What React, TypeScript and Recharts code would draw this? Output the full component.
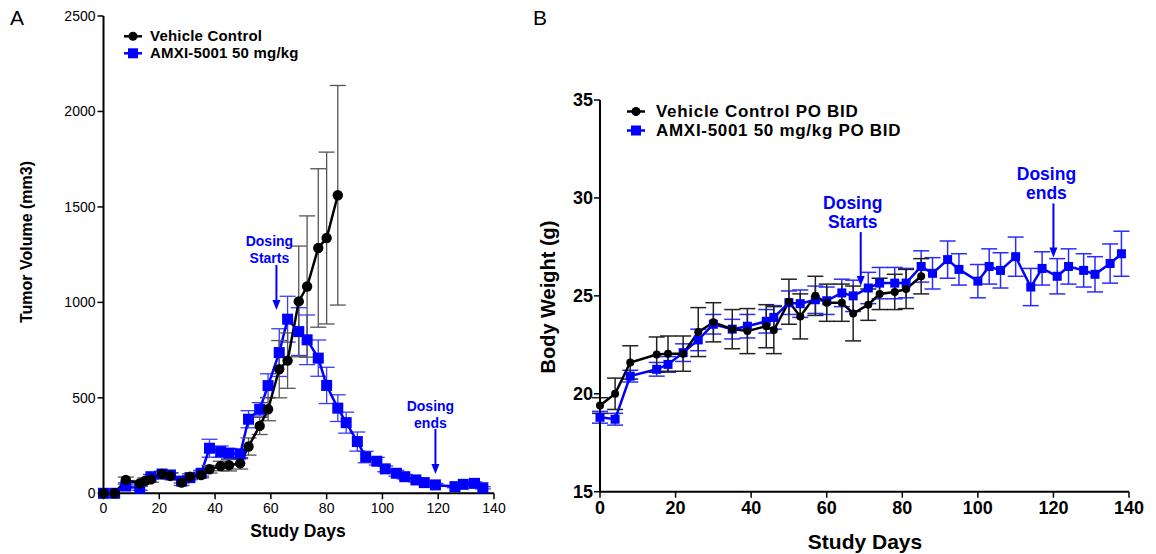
import React from 'react';
import {
  LineChart,
  Line,
  XAxis,
  YAxis,
  ErrorBar,
  ReferenceDot,
} from 'recharts';

// Panel A: tumor volume (mm3)
const tumorDaysVehicle = [0, 4, 8, 13, 15, 17, 21, 24, 28, 31, 35, 38, 42, 45, 49, 52, 56, 59, 63, 66, 70, 73, 77, 80, 84];
const tumorVehicle = [0, 0, 70, 52, 66, 73, 101, 91, 56, 87, 96, 126, 143, 147, 157, 245, 353, 440, 650, 695, 1005, 1083, 1285, 1337, 1561];
const tumorVehicleSem = [0, 0, 15, 15, 15, 15, 15, 15, 15, 15, 15, 20, 25, 30, 30, 45, 45, 60, 150, 145, 290, 370, 415, 450, 575];

const tumorDaysAmxi = [0, 4, 8, 13, 17, 21, 24, 28, 31, 35, 38, 42, 45, 49, 52, 56, 59, 63, 66, 70, 73, 77, 80, 84, 87, 91, 94, 98, 101, 105, 108, 112, 115, 119, 126, 129, 133, 136];
const tumorAmxi = [0, 0, 38, 26, 87, 101, 96, 64, 82, 105, 236, 218, 210, 206, 388, 440, 564, 737, 912, 847, 804, 708, 565, 446, 370, 271, 190, 168, 128, 105, 87, 70, 56, 44, 35, 47, 52, 29];
const tumorAmxiSem = [0, 0, 10, 10, 12, 12, 12, 10, 10, 15, 47, 30, 25, 25, 45, 35, 62, 125, 120, 125, 130, 95, 95, 70, 55, 50, 30, 20, 15, 15, 12, 10, 8, 8, 6, 6, 8, 6];

const tumorTicksX = [0, 20, 40, 60, 80, 100, 120, 140];
const tumorTicksY = [0, 500, 1000, 1500, 2000, 2500];

// Panel B: body weight (g)
const weightDaysVehicle = [0, 4, 8, 15, 18, 22, 26, 30, 35, 39, 44, 46, 50, 53, 57, 60, 64, 67, 71, 74, 78, 81, 85];
const weightVehicle = [19.4, 20.0, 21.6, 22.0, 22.05, 22.05, 23.15, 23.65, 23.3, 23.2, 23.45, 23.25, 24.7, 23.95, 25.0, 24.65, 24.65, 24.1, 24.55, 25.1, 25.2, 25.35, 26.0];
const weightVehicleSem = [0.4, 0.8, 0.85, 0.9, 0.9, 0.9, 1.25, 1.0, 1.0, 1.15, 1.1, 1.2, 1.15, 1.15, 1.0, 0.95, 0.95, 1.4, 0.8, 0.8, 0.9, 1.0, 0.9];

const weightDaysAmxi = [0, 4, 8, 15, 18, 22, 26, 30, 35, 39, 44, 46, 50, 53, 57, 60, 64, 67, 71, 74, 78, 81, 85, 88, 92, 95, 100, 103, 106, 110, 114, 117, 121, 124, 128, 131, 135, 138];
const weightAmxi = [18.8, 18.7, 20.9, 21.25, 21.5, 22.1, 22.75, 23.55, 23.3, 23.45, 23.7, 23.9, 24.65, 24.6, 24.8, 24.75, 25.15, 25.0, 25.4, 25.65, 25.65, 25.65, 26.5, 26.15, 26.85, 26.35, 25.75, 26.5, 26.3, 27.0, 25.45, 26.4, 26.0, 26.5, 26.3, 26.1, 26.65, 27.15];
const weightAmxiSem = [0.3, 0.3, 0.3, 0.35, 0.4, 0.45, 0.55, 0.5, 0.5, 0.6, 0.6, 0.6, 0.6, 0.7, 0.7, 0.7, 0.7, 0.8, 0.8, 0.8, 0.8, 0.75, 0.8, 0.8, 0.95, 0.8, 0.85, 0.9, 0.9, 1.0, 0.95, 0.85, 0.9, 0.9, 0.85, 0.9, 1.0, 1.15];

const weightTicksX = [0, 20, 40, 60, 80, 100, 120, 140];
const weightTicksY = [15, 20, 25, 30, 35];

// annotation anchors (arrow tips) [day, value]
const tumorDosingStart = [62, 960];
const tumorDosingEnd = [119, 101];
const weightDosingStart = [69, 25.5];
const weightDosingEnd = [120, 26.96];

const BLUE = '#0000ff';
const FONT = '"Liberation Sans", Arial, Helvetica, sans-serif';

const rows = (days: number[], vals: number[], sem: number[]) =>
  days.map((d, i) => ({ day: d, value: vals[i], err: sem[i] }));

const tumorVehicleRows = rows(tumorDaysVehicle, tumorVehicle, tumorVehicleSem);
const tumorAmxiRows = rows(tumorDaysAmxi, tumorAmxi, tumorAmxiSem);
const weightVehicleRows = rows(weightDaysVehicle, weightVehicle, weightVehicleSem);
const weightAmxiRows = rows(weightDaysAmxi, weightAmxi, weightAmxiSem);

const squareDot = (size: number) => (props: any) => {
  const { cx, cy, index } = props;
  if (cx == null || cy == null) return <g key={index} />;
  return <rect key={index} x={cx - size / 2} y={cy - size / 2} width={size} height={size} fill={BLUE} />;
};

const dosingMark = (lines: string[], dx: number, shaft: number, fontSize: number, gap: number, firstBaseline: number) =>
  (props: any) => {
    const { cx, cy } = props;
    return (
      <g>
        <line x1={cx} y1={cy - shaft} x2={cx} y2={cy - 9} stroke={BLUE} strokeWidth={2} />
        <polygon points={`${cx - 4},${cy - 10} ${cx + 4},${cy - 10} ${cx},${cy}`} fill={BLUE} />
        {lines.map((t, i) => (
          <text
            key={t}
            x={cx + dx}
            y={cy - firstBaseline + i * gap}
            textAnchor="middle"
            fill={BLUE}
            fontSize={fontSize}
            fontWeight="bold"
            fontFamily={FONT}
          >
            {t}
          </text>
        ))}
      </g>
    );
  };

function LegendBox({ left, top, rowH, fontSize, gap, spacing = 0, items }: any) {
  return (
    <div style={{ position: 'absolute', left, top, fontFamily: FONT, fontWeight: 'bold', fontSize, color: '#000' }}>
      {items.map((it: any) => (
        <div key={it.label} style={{ display: 'flex', alignItems: 'center', height: rowH, whiteSpace: 'nowrap' }}>
          <svg width={20} height={rowH} style={{ marginRight: gap }}>
            <line x1={1} x2={19} y1={rowH / 2} y2={rowH / 2} stroke={it.color} strokeWidth={2.5} />
            {it.square ? (
              <rect x={5} y={rowH / 2 - 5} width={10} height={10} fill={it.color} />
            ) : (
              <circle cx={10} cy={rowH / 2} r={4.5} fill={it.color} />
            )}
          </svg>
          <span style={{ lineHeight: `${rowH}px`, height: rowH, letterSpacing: spacing }}>{it.label}</span>
        </div>
      ))}
    </div>
  );
}

const titleText = (x: number, y: number, text: string, size: number, rotate = false) => () => (
  <text
    x={x}
    y={y}
    textAnchor="middle"
    dominantBaseline="central"
    transform={rotate ? `rotate(-90 ${x} ${y})` : undefined}
    fontSize={size}
    fontWeight="bold"
    fontFamily={FONT}
    fill="#000"
  >
    {text}
  </text>
);

export default function App() {
  const axisA = { stroke: '#000', strokeWidth: 2 };
  const tickLineA = { stroke: '#000', strokeWidth: 1.5 };
  return (
    <div style={{ position: 'absolute', left: 0, top: 0, width: 1156, height: 554, background: '#fff', fontFamily: FONT }}>
      <div style={{ position: 'absolute', left: 10, top: 6, fontSize: 21, fontFamily: FONT }}>A</div>
      <div style={{ position: 'absolute', left: 533, top: 6, fontSize: 21, fontFamily: FONT }}>B</div>

      <div style={{ position: 'absolute', left: 0, top: 0 }}>
        <LineChart width={520} height={554} margin={{ top: 16, right: 26, bottom: 30.7, left: 43.5 }}>
          <XAxis
            type="number"
            dataKey="day"
            domain={[0, 140]}
            ticks={tumorTicksX}
            height={30}
            axisLine={axisA}
            tickLine={tickLineA}
            tickSize={6}
            tickMargin={4}
            tick={{ fill: '#000', fontSize: 14, fontFamily: FONT }}
            label={titleText(298, 531, 'Study Days', 17.5)}
          />
          <YAxis
            type="number"
            domain={[0, 2500]}
            ticks={tumorTicksY}
            width={60}
            axisLine={axisA}
            tickLine={tickLineA}
            tickSize={6}
            tickMargin={2}
            tick={{ fill: '#000', fontSize: 14, fontFamily: FONT }}
            label={titleText(26, 242, 'Tumor Volume (mm3)', 16, true)}
          />
          <Line
            data={tumorAmxiRows}
            dataKey="value"
            stroke={BLUE}
            strokeWidth={2.5}
            dot={squareDot(11)}
            isAnimationActive={false}
          >
            <ErrorBar dataKey="err" direction="y" width={8} stroke="#3b3bff" strokeWidth={1.3} />
          </Line>
          <Line
            data={tumorVehicleRows}
            dataKey="value"
            stroke="#000"
            strokeWidth={2.5}
            dot={{ r: 5.2, fill: '#000', stroke: '#000', strokeWidth: 0 }}
            isAnimationActive={false}
          >
            <ErrorBar dataKey="err" direction="y" width={8} stroke="#555" strokeWidth={1.3} />
          </Line>
          <ReferenceDot
            x={tumorDosingStart[0]}
            y={tumorDosingStart[1]}
            r={0}
            shape={dosingMark(['Dosing', 'Starts'], -7, 45, 14, 16.5, 64)}
          />
          <ReferenceDot
            x={tumorDosingEnd[0]}
            y={tumorDosingEnd[1]}
            r={0}
            shape={dosingMark(['Dosing', 'ends'], -5, 45, 14, 16.5, 63)}
          />
        </LineChart>
      </div>

      <div style={{ position: 'absolute', left: 520, top: 0 }}>
        <LineChart width={636} height={554} margin={{ top: 100, right: 27, bottom: 32.3, left: 20 }}>
          <XAxis
            type="number"
            dataKey="day"
            domain={[0, 140]}
            ticks={weightTicksX}
            height={30}
            axisLine={axisA}
            tickLine={tickLineA}
            tickSize={6}
            tickMargin={4}
            tick={{ fill: '#000', fontSize: 18, fontWeight: 'bold', fontFamily: FONT }}
            label={titleText(345, 541, 'Study Days', 21)}
          />
          <YAxis
            type="number"
            domain={[15, 35]}
            ticks={weightTicksY}
            width={60}
            axisLine={axisA}
            tickLine={tickLineA}
            tickSize={6}
            tickMargin={1}
            tick={{ fill: '#000', fontSize: 18, fontWeight: 'bold', fontFamily: FONT }}
            label={titleText(28, 297, 'Body Weight (g)', 20, true)}
          />
          <Line
            data={weightAmxiRows}
            dataKey="value"
            stroke={BLUE}
            strokeWidth={2.5}
            dot={squareDot(9)}
            isAnimationActive={false}
          >
            <ErrorBar dataKey="err" direction="y" width={8} stroke="#2b2bff" strokeWidth={1.5} />
          </Line>
          <Line
            data={weightVehicleRows}
            dataKey="value"
            stroke="#000"
            strokeWidth={2.5}
            dot={{ r: 4, fill: '#000', stroke: '#000', strokeWidth: 0 }}
            isAnimationActive={false}
          >
            <ErrorBar dataKey="err" direction="y" width={8} stroke="#222" strokeWidth={1.5} />
          </Line>
          <ReferenceDot
            x={weightDosingStart[0]}
            y={weightDosingStart[1]}
            r={0}
            shape={dosingMark(['Dosing', 'Starts'], -8, 54, 17.5, 18.5, 77)}
          />
          <ReferenceDot
            x={weightDosingEnd[0]}
            y={weightDosingEnd[1]}
            r={0}
            shape={dosingMark(['Dosing', 'ends'], -7, 54, 17.5, 18.5, 77)}
          />
        </LineChart>
      </div>

      <LegendBox
        left={123}
        top={28.4}
        rowH={16.6}
        fontSize={15}
        gap={7}
        spacing={0.2}
        items={[
          { label: 'Vehicle Control', color: '#000' },
          { label: 'AMXI-5001 50 mg/kg', color: BLUE, square: true },
        ]}
      />
      <LegendBox
        left={626}
        top={102}
        rowH={19}
        fontSize={17}
        gap={10}
        spacing={0.7}
        items={[
          { label: 'Vehicle Control PO BID', color: '#000' },
          { label: 'AMXI-5001 50 mg/kg PO BID', color: BLUE, square: true },
        ]}
      />
    </div>
  );
}
